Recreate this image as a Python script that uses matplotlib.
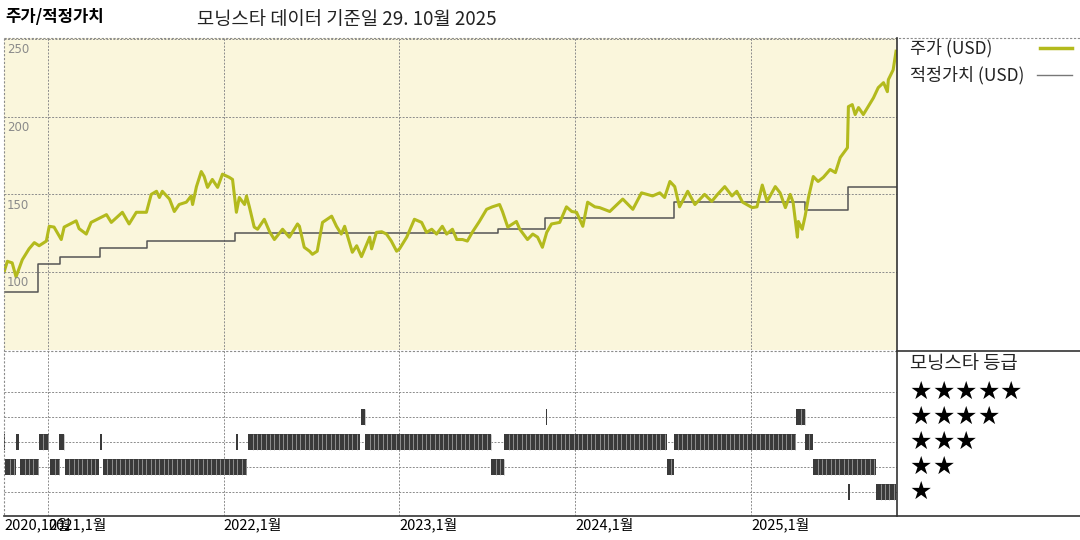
import matplotlib
matplotlib.use("Agg")
import matplotlib.pyplot as plt
import matplotlib.dates as mdates
import matplotlib.transforms as mtransforms
from matplotlib.lines import Line2D
import pandas as pd

plt.rcParams['font.family'] = ['Noto Sans CJK KR', 'DejaVu Sans']

# price (USD)
price_dates = [
    "2020-10-01", "2020-10-08", "2020-10-18", "2020-10-26", "2020-11-08", "2020-11-22",
    "2020-12-03", "2020-12-13", "2020-12-28", "2021-01-03", "2021-01-13", "2021-01-28",
    "2021-02-03", "2021-02-28", "2021-03-06", "2021-03-21", "2021-03-31", "2021-05-02",
    "2021-05-12", "2021-06-04", "2021-06-18", "2021-07-03", "2021-07-24", "2021-08-03",
    "2021-08-14", "2021-08-20", "2021-08-26", "2021-09-10", "2021-09-20", "2021-09-30",
    "2021-10-15", "2021-10-25", "2021-10-28", "2021-11-05", "2021-11-15", "2021-11-21",
    "2021-11-28", "2021-12-08", "2021-12-19", "2021-12-29", "2022-01-12", "2022-01-19",
    "2022-01-27", "2022-02-02", "2022-02-13", "2022-02-17", "2022-02-23", "2022-03-05",
    "2022-03-12", "2022-03-26", "2022-04-06", "2022-04-16", "2022-05-03", "2022-05-17",
    "2022-06-03", "2022-06-07", "2022-06-17", "2022-06-28", "2022-07-04", "2022-07-14",
    "2022-07-25", "2022-08-13", "2022-08-23", "2022-09-02", "2022-09-09", "2022-09-25",
    "2022-10-04", "2022-10-14", "2022-10-31", "2022-11-04", "2022-11-14", "2022-11-25",
    "2022-12-05", "2022-12-15", "2022-12-26", "2023-01-01", "2023-01-16", "2023-02-01",
    "2023-02-16", "2023-02-26", "2023-03-09", "2023-03-19", "2023-03-31", "2023-04-09",
    "2023-04-21", "2023-04-30", "2023-05-12", "2023-05-22", "2023-06-02", "2023-06-16",
    "2023-07-01", "2023-07-13", "2023-07-28", "2023-08-03", "2023-08-14", "2023-09-01",
    "2023-09-08", "2023-09-24", "2023-10-05", "2023-10-15", "2023-10-25", "2023-11-03",
    "2023-11-13", "2023-11-30", "2023-12-14", "2023-12-25", "2024-01-04", "2024-01-17",
    "2024-01-27", "2024-02-11", "2024-02-21", "2024-03-13", "2024-04-09", "2024-04-30",
    "2024-05-18", "2024-06-10", "2024-06-25", "2024-07-05", "2024-07-16", "2024-07-26",
    "2024-08-05", "2024-08-22", "2024-09-06", "2024-09-26", "2024-10-11", "2024-10-23",
    "2024-11-07", "2024-11-22", "2024-12-02", "2024-12-14", "2025-01-03", "2025-01-13",
    "2025-01-24", "2025-02-03", "2025-02-20", "2025-03-02", "2025-03-13", "2025-03-23",
    "2025-03-29", "2025-04-07", "2025-04-09", "2025-04-17", "2025-04-23", "2025-04-30",
    "2025-05-10", "2025-05-20", "2025-05-31", "2025-06-14", "2025-06-25", "2025-07-05",
    "2025-07-20", "2025-07-22", "2025-07-30", "2025-08-05", "2025-08-12", "2025-08-22",
    "2025-09-01", "2025-09-12", "2025-09-22", "2025-10-03", "2025-10-11", "2025-10-13",
    "2025-10-23", "2025-10-29",
]
price_values = [
    100, 107, 106, 97, 108, 115,
    119, 117, 120, 129.5, 129, 121,
    129, 133, 128, 124.5, 132, 137,
    132, 138.5, 131, 138.5, 138.5, 150,
    152, 148, 152, 147, 139, 143.5,
    145, 149, 143.5, 155, 164.7, 161.5,
    154.5, 159.6, 154.5, 163, 161, 159.6,
    138.5, 148, 143.5, 149, 142, 129,
    127.6, 134, 126, 121, 127.6, 122.5,
    131, 129.5, 116, 113.5, 111.5, 113.5,
    132, 136, 129.5, 124.5, 129.5, 112.8,
    117, 110, 122.5, 115, 125.6, 126,
    124.5, 120, 113.5, 115, 122.5, 134,
    132, 125.6, 127.6, 124.5, 129.5, 124.5,
    127.6, 121, 121, 120, 126, 132.6,
    140.4, 142, 143.5, 139, 129, 132.6,
    127.6, 121, 124.5, 122.5, 116, 125.6,
    131, 132, 142, 139, 138.5, 129.5,
    145, 142, 141.5, 139, 147, 140.4,
    151, 149, 151, 148, 158.3, 155,
    142, 152, 143.5, 150, 145.5, 150,
    155, 149, 152, 145, 141.5, 142,
    156, 145.5, 155, 151, 141.5, 150,
    145, 122.5, 132.6, 127.6, 136, 148,
    161.5, 158.3, 161, 166, 164, 173.7,
    180, 206.4, 207.7, 201.3, 205.8, 201.3,
    206.4, 212, 218.6, 221.8, 216, 223.7,
    230, 242,
]

# fair value (USD), step changes
fair_dates = [
    "2020-10-01", "2020-12-11", "2021-01-26", "2021-04-19", "2021-07-26", "2022-01-25",
    "2023-07-24", "2023-10-31", "2024-07-24", "2025-04-23", "2025-07-22", "2025-10-29",
]
fair_values = [87, 105, 109.6, 115.4, 120, 125, 128, 134.6, 145, 139.8, 155, 155]

# morningstar rating periods
rating_start = [
    "2020-10-01", "2020-10-26", "2020-12-13", "2021-01-24", "2021-04-19", "2022-01-27",
    "2022-02-21", "2022-10-22", "2023-08-07", "2024-07-24", "2025-04-23",
    "2020-10-04", "2020-11-04", "2021-01-05", "2021-02-05", "2021-04-25", "2023-07-11",
    "2024-07-09", "2025-05-10",
    "2022-10-12", "2023-11-01", "2025-04-05",
    "2025-07-22", "2025-09-18",
]
rating_end = [
    "2020-10-04", "2020-11-02", "2021-01-03", "2021-02-03", "2021-04-23", "2022-01-31",
    "2022-10-10", "2023-07-11", "2024-07-09", "2025-04-05", "2025-05-10",
    "2020-10-26", "2020-12-13", "2021-01-26", "2021-04-17", "2022-02-19", "2023-08-07",
    "2024-07-24", "2025-09-18",
    "2022-10-22", "2023-11-02", "2025-04-23",
    "2025-07-23", "2025-10-29",
]
rating_stars = [3] * 11 + [2] * 8 + [4] * 3 + [1] * 2

tick_dates = ["2020-10-01", "2021-01-01", "2022-01-01", "2023-01-01", "2024-01-01", "2025-01-01"]
tick_labels = ["2020,10월", "2021,1월", "2022,1월", "2023,1월", "2024,1월", "2025,1월"]
price_ticks = [100, 150, 200, 250]

x_start, x_end = pd.Timestamp("2020-10-01"), pd.Timestamp("2025-10-31")
grid_kw = dict(color="#8c8c8c", lw=0.7, linestyle=(0, (2, 1.5)))
price_color = "#B3BA1D"

W, H = 1080, 540
fig = plt.figure(figsize=(W / 100, H / 100), dpi=100)

def fx(px):
    return px / W

def fy(py):
    return 1 - py / H

ax1 = fig.add_axes([fx(4), fy(350), fx(893), 312 / H])
ax2 = fig.add_axes([fx(4), fy(516), fx(893), 166 / H])

# --- upper panel: price / fair value
ax1.set_facecolor("#FAF6DC")
ax1.plot(pd.to_datetime(price_dates), price_values, color=price_color, lw=2.2, zorder=3)
ax1.plot(pd.to_datetime(fair_dates), fair_values, color="#555555", lw=1.1,
         drawstyle="steps-post", zorder=2)
ax1.set_ylim(50, 250.5)
ax1.set_xlim(x_start, x_end)
for v in price_ticks:
    ax1.axhline(v, **grid_kw, zorder=1)
    ax1.annotate(str(v), (0, v), xycoords=ax1.get_yaxis_transform(), xytext=(2, -3),
                 textcoords="offset points", ha="left", va="top", fontsize=8.5,
                 color="#8a8a8a", family=["DejaVu Sans"])
ax1.annotate("50", (0, 50), xycoords=ax1.get_yaxis_transform(), xytext=(2, -3),
             textcoords="offset points", ha="left", va="top", fontsize=8.5,
             color="#8a8a8a", family=["DejaVu Sans"], annotation_clip=False)
for d in tick_dates[1:]:
    ax1.axvline(pd.Timestamp(d), **grid_kw, zorder=1)
ax1.set_xticks([])
ax1.set_yticks([])
for s in ax1.spines.values():
    s.set_visible(False)

# --- lower panel: rating barcode
ax2.set_xlim(x_start, x_end)
ax2.set_ylim(0.04, 6.68)
for r in range(1, 6):
    ax2.axhline(r, **grid_kw, zorder=1)
for d in tick_dates[1:]:
    ax2.axvline(pd.Timestamp(d), **grid_kw, zorder=1)
for s0, s1, r in zip(rating_start, rating_end, rating_stars):
    a = mdates.date2num(pd.Timestamp(s0))
    b = mdates.date2num(pd.Timestamp(s1))
    wdt = max(b - a, 2.5)
    ax2.broken_barh([(a, wdt)], (r - 0.33, 0.66), facecolors="#3a3a3a", zorder=3)
    # light separators give the striped look
    for t in pd.date_range(s0, s1, freq="9D")[1:]:
        ax2.vlines(t, r - 0.33, r + 0.33, color="#b0b0b0", lw=0.5, zorder=4)
ax2.set_yticks([])
ax2.set_xticks(pd.to_datetime(tick_dates))
ax2.set_xticklabels(tick_labels, ha="left", fontsize=10.5)
ax2.tick_params(axis="x", length=0, pad=1)
for s in ax2.spines.values():
    s.set_visible(False)

# --- frame lines
frame = [
    ((fx(4), fx(1080)), (fy(38), fy(38)), "#8c8c8c", (0, (2, 1.5)), 0.8),
    ((fx(4), fx(4)), (fy(38), fy(516)), "#8c8c8c", (0, (2, 1.5)), 0.8),
    ((fx(4), fx(897)), (fy(350.5), fy(350.5)), "#8c8c8c", (0, (2, 1.5)), 0.8),
    ((fx(897), fx(897)), (fy(38), fy(516)), "#333333", "-", 1.2),
    ((fx(897), fx(1080)), (fy(350.5), fy(350.5)), "#333333", "-", 1.2),
    ((fx(4), fx(1080)), (fy(516), fy(516)), "#333333", "-", 1.2),
]
for xs, ys, c, ls, lw in frame:
    fig.add_artist(Line2D(xs, ys, color=c, linestyle=ls, lw=lw, transform=fig.transFigure))

# --- titles
fig.text(fx(5), fy(17), "주가/적정가치", fontsize=12, fontweight="bold", va="center")
fig.text(fx(197), fy(20), "모닝스타 데이터 기준일 29. 10월 2025", fontsize=13.5, va="center",
         color="#222222")

# --- legend
fig.text(fx(910), fy(48), "주가 (USD)", fontsize=12.5, va="center", color="#222222")
fig.add_artist(Line2D((fx(1040), fx(1072)), (fy(48), fy(48)), color=price_color, lw=2.5,
                      transform=fig.transFigure))
fig.text(fx(910), fy(75), "적정가치 (USD)", fontsize=12.5, va="center", color="#222222")
fig.add_artist(Line2D((fx(1037), fx(1072)), (fy(75), fy(75)), color="#777777", lw=1.0,
                      transform=fig.transFigure))

fig.text(fx(910), fy(363), "모닝스타 등급", fontsize=13.5, va="center", color="#222222")
star_tr = mtransforms.blended_transform_factory(fig.transFigure, ax2.transData)
for r in range(5, 0, -1):
    for k in range(r):
        fig.text(fx(921 + 22.5 * k), r, "★", transform=star_tr, fontsize=18,
                 ha="center", va="center", family=["DejaVu Sans"])

fig.savefig("out.png", dpi=100)
